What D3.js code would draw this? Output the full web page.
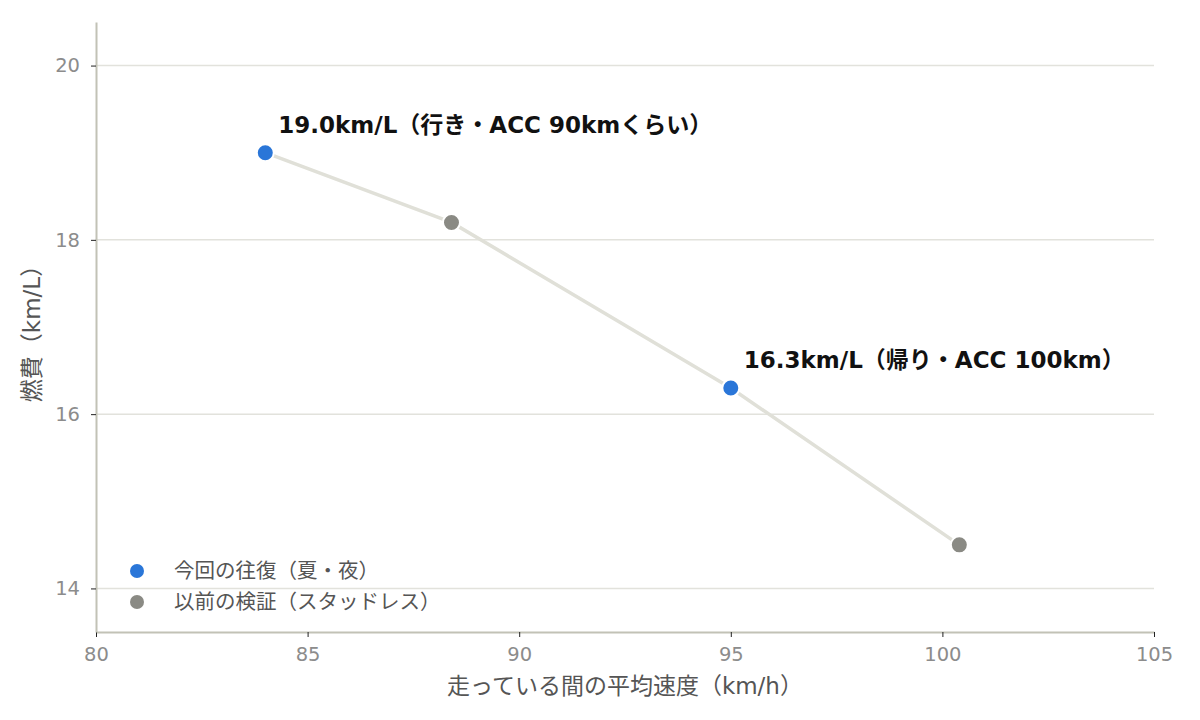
<!DOCTYPE html>
<html>
<head>
<meta charset="utf-8">
<script src="https://cdn.jsdelivr.net/npm/d3@7"></script>
<style>
  body { margin: 0; background: #fff; }
  text { font-family: "DejaVu Sans", "Noto Sans CJK JP", sans-serif; }
</style>
</head>
<body>
<div id="chart"></div>
<script>
// data
const speeds = [84.0, 88.4, 95.0, 100.4];
const economy = [19.0, 18.2, 16.3, 14.5];
const groups = ["now", "prev", "now", "prev"];
const annotations = ["19.0km/L（行き・ACC 90kmくらい）", null, "16.3km/L（帰り・ACC 100km）", null];
const legendLabels = ["今回の往復（夏・夜）", "以前の検証（スタッドレス）"];
const xTicks = [80, 85, 90, 95, 100, 105];
const yTicks = [14, 16, 18, 20];

const width = 1200, height = 720;
const margin = { top: 22, right: 46, bottom: 88, left: 96 };
const innerW = width - margin.left - margin.right;
const innerH = height - margin.top - margin.bottom;

const colors = { now: "#2a76d8", prev: "#8a8a84" };

const svg = d3.select("#chart").append("svg")
  .attr("width", width)
  .attr("height", height);

const g = svg.append("g")
  .attr("transform", "translate(" + margin.left + "," + margin.top + ")");

const x = d3.scaleLinear().domain([80, 105]).range([0, innerW]);
const y = d3.scaleLinear().domain([13.5, 20.5]).range([innerH, 0]);

// gridlines
g.selectAll(".grid")
  .data(yTicks)
  .enter()
  .append("line")
  .attr("x1", 0)
  .attr("x2", innerW)
  .attr("y1", d => y(d))
  .attr("y2", d => y(d))
  .attr("stroke", "#e2e2dc")
  .attr("stroke-width", 1.5);

// axes
const xAxis = g.append("g")
  .attr("transform", "translate(0," + innerH + ")")
  .call(d3.axisBottom(x).tickValues(xTicks).tickFormat(d3.format("d"))
    .tickSize(5).tickSizeOuter(0).tickPadding(10));
const yAxis = g.append("g")
  .call(d3.axisLeft(y).tickValues(yTicks).tickFormat(d3.format("d"))
    .tickSize(5).tickSizeOuter(0).tickPadding(11));

[xAxis, yAxis].forEach(a => {
  a.select(".domain").attr("stroke", "#c2c2b6").attr("stroke-width", 2);
  a.selectAll(".tick line").attr("stroke", "#222");
  a.selectAll(".tick text")
    .attr("fill", "#8c8c8c")
    .style("font-family", "\"DejaVu Sans\", sans-serif")
    .style("font-size", "19.5px");
});

// line
const pts = speeds.map((s, i) => ({ x: s, y: economy[i], g: groups[i], label: annotations[i] }));
const line = d3.line().x(d => x(d.x)).y(d => y(d.y));
g.append("path")
  .datum(pts)
  .attr("d", line)
  .attr("fill", "none")
  .attr("stroke", "#e0e0d8")
  .attr("stroke-width", 3.5);

// points
g.selectAll(".pt")
  .data(pts)
  .enter()
  .append("circle")
  .attr("cx", d => x(d.x))
  .attr("cy", d => y(d.y))
  .attr("r", 8.5)
  .attr("fill", d => colors[d.g])
  .attr("stroke", "#fff")
  .attr("stroke-width", 2);

// annotations
g.selectAll(".ann")
  .data(pts.filter(d => d.label))
  .enter()
  .append("text")
  .attr("x", d => x(d.x) + 13)
  .attr("y", d => y(d.y) - 20)
  .attr("fill", "#111")
  .style("font-size", "23px")
  .style("font-weight", "bold")
  .text(d => d.label);

// legend
const legend = g.append("g").attr("transform", "translate(41,549)");
legendLabels.forEach((lab, i) => {
  const row = legend.append("g").attr("transform", "translate(0," + i * 31 + ")");
  row.append("circle").attr("r", 7).attr("fill", i === 0 ? colors.now : colors.prev);
  row.append("text")
    .attr("x", 37)
    .attr("y", 7)
    .attr("fill", "#555")
    .style("font-size", "20.5px")
    .text(lab);
});

// axis titles
svg.append("text")
  .attr("x", margin.left + innerW / 2)
  .attr("y", 694)
  .attr("text-anchor", "middle")
  .attr("fill", "#555")
  .style("font-size", "23px")
  .text("走っている間の平均速度（km/h）");

svg.append("text")
  .attr("transform", "translate(40," + (margin.top + innerH / 2 + 1) + ") rotate(-90)")
  .attr("text-anchor", "middle")
  .attr("fill", "#555")
  .style("font-size", "23px")
  .text("燃費（km/L）");
</script>
</body>
</html>
